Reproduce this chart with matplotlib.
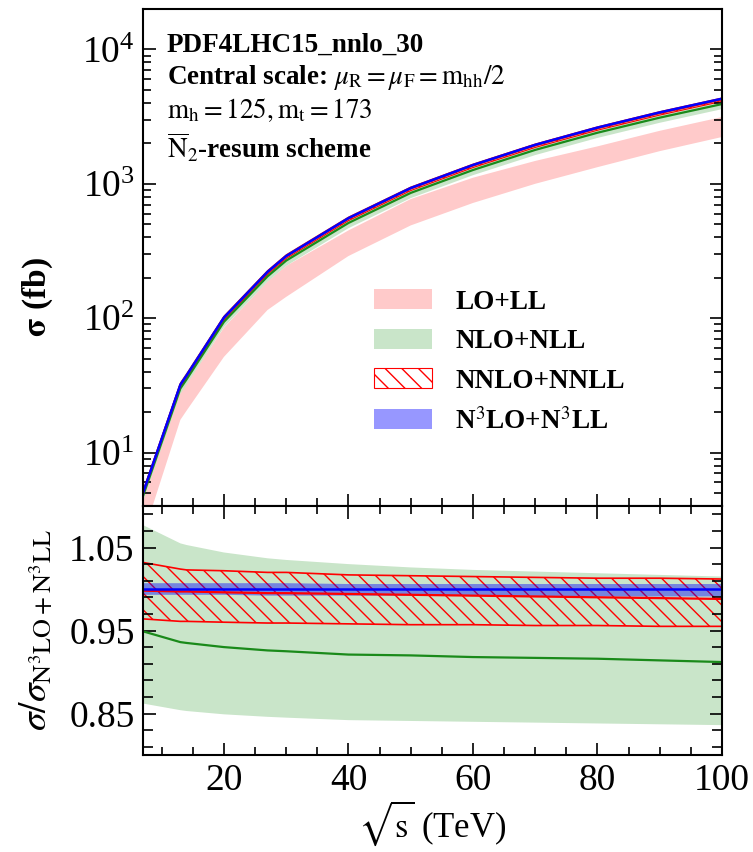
import numpy as np
import matplotlib
matplotlib.use("Agg")
import matplotlib.pyplot as plt
from matplotlib.ticker import FixedLocator, LogLocator, NullFormatter

plt.rcParams['font.family'] = ['Liberation Serif', 'DejaVu Serif']
plt.rcParams['mathtext.fontset'] = 'stix'
plt.rcParams['hatch.linewidth'] = 1.0

# ---------------- data ----------------
sqrt_s = [7, 13, 14, 20, 27, 30, 40, 50, 60, 70, 80, 90, 100]  # TeV

# N3LO+N3LL central cross section (fb)
sigma_n3lo = [5.0, 32, 37.5, 101, 221, 290, 555, 930, 1380, 1950, 2620, 3400, 4300]

# LO+LL band (fb)
lo_upper = [4.6, 28, 32.5, 85, 188, 245, 450, 770, 1110, 1480, 1900, 2480, 3140]
lo_lower = [2.4, 17.5, 20.5, 51.5, 115, 144, 290, 490, 720, 1000, 1330, 1750, 2230]

# ratios to N3LO+N3LL central
nlo_ratio_c = [0.949, 0.936, 0.935, 0.930, 0.926, 0.925, 0.921, 0.920, 0.918, 0.917, 0.916, 0.914, 0.912]
nlo_ratio_up = [1.077, 1.055, 1.053, 1.044, 1.037, 1.035, 1.030, 1.026, 1.023, 1.021, 1.019, 1.017, 1.015]
nlo_ratio_lo = [0.862, 0.854, 0.853, 0.849, 0.846, 0.845, 0.842, 0.841, 0.840, 0.839, 0.838, 0.837, 0.836]

nnlo_ratio_c = [0.998, 0.997, 0.997, 0.996, 0.995, 0.995, 0.994, 0.993, 0.992, 0.991, 0.990, 0.989, 0.988]
nnlo_ratio_up = [1.032, 1.024, 1.023, 1.022, 1.020, 1.020, 1.017, 1.016, 1.015, 1.014, 1.013, 1.013, 1.012]
nnlo_ratio_lo = [0.964, 0.961, 0.961, 0.960, 0.959, 0.959, 0.958, 0.957, 0.957, 0.956, 0.956, 0.955, 0.955]

n3lo_ratio_c = [1.000] * 13
n3lo_ratio_up = [1.007, 1.007, 1.007, 1.007, 1.007, 1.007, 1.006, 1.006, 1.006, 1.006, 1.006, 1.006, 1.006]
n3lo_ratio_lo = [0.993, 0.993, 0.993, 0.993, 0.992, 0.992, 0.992, 0.992, 0.992, 0.991, 0.991, 0.991, 0.991]

labels = ["LO+LL", "NLO+NLL", "NNLO+NNLL", r"N$^{3}$LO+N$^{3}$LL"]

x = np.array(sqrt_s, dtype=float)
cen = np.array(sigma_n3lo)

c_lo = '#ffcaca'
c_nlo = '#c9e5c9'
c_n3lo = '#8c8cff'

fig = plt.figure(figsize=(7.53, 8.52), dpi=100)
W, H = 753, 852
L, R = 143, 722
ax1 = fig.add_axes([L / W, 1 - 506 / H, (R - L) / W, (506 - 9) / H])
ax2 = fig.add_axes([L / W, 1 - 755 / H, (R - L) / W, (755 - 506) / H])

# ---------- top panel ----------
h_lo = ax1.fill_between(x, lo_lower, lo_upper, facecolor=c_lo, edgecolor='none', label=labels[0])
h_nlo = ax1.fill_between(x, cen * np.array(nlo_ratio_lo), cen * np.array(nlo_ratio_up),
                         facecolor=c_nlo, edgecolor='none', label=labels[1])
ax1.plot(x, cen * np.array(nlo_ratio_c), color='#1a8a1a', lw=1.6)
h_nnlo = ax1.fill_between(x, cen * np.array(nnlo_ratio_lo), cen * np.array(nnlo_ratio_up),
                          facecolor='none', edgecolor='red', hatch='\\\\', lw=0.8, label=labels[2])
ax1.plot(x, cen * np.array(nnlo_ratio_c), color='red', lw=1.6)
h_n3lo = ax1.fill_between(x, cen * np.array(n3lo_ratio_lo), cen * np.array(n3lo_ratio_up),
                          facecolor=c_n3lo, edgecolor='none', alpha=0.9, label=labels[3])
ax1.plot(x, cen, color='blue', lw=1.8)

ax1.set_yscale('log')
ax1.set_xlim(7, 100)
ax1.set_ylim(4.0, 2.0e4)

leg = ax1.legend(handles=[h_lo, h_nlo, h_nnlo, h_n3lo], labels=labels,
                 loc='upper left', bbox_to_anchor=(0.357, 0.485), frameon=False,
                 prop={'family': ['Liberation Serif'], 'weight': 'bold', 'size': 19.5},
                 handlelength=2.15, handleheight=0.75, labelspacing=0.52, handletextpad=0.85)

ax1.set_ylabel(r"$\mathbf{\sigma}$ (fb)", fontsize=24, fontweight='bold')
ax1.yaxis.set_label_coords(-0.152, 0.42)

tx = 0.041
fs_ann = 19.5
ax1.text(tx, 0.928, "PDF4LHC15_nnlo_30", transform=ax1.transAxes, fontsize=fs_ann, fontweight='bold', va='center')
ax1.text(tx, 0.863, r"Central scale: $\mu_{\rm R}=\mu_{\rm F}=\rm m_{hh}/2$", transform=ax1.transAxes,
         fontsize=fs_ann, fontweight='bold', va='center')
ax1.text(tx, 0.797, r"$\rm m_h = 125, m_t = 173$", transform=ax1.transAxes, fontsize=fs_ann, va='center')
ax1.text(tx, 0.722, r"$\overline{\rm N}_2$-resum scheme", transform=ax1.transAxes, fontsize=fs_ann,
         fontweight='bold', va='center')

# ---------- bottom panel ----------
ax2.fill_between(x, nlo_ratio_lo, nlo_ratio_up, facecolor=c_nlo, edgecolor='none')
ax2.plot(x, nlo_ratio_c, color='#1a8a1a', lw=1.6)
ax2.fill_between(x, nnlo_ratio_lo, nnlo_ratio_up, facecolor='none', edgecolor='red', hatch='\\\\', lw=1.2)
ax2.fill_between(x, n3lo_ratio_lo, n3lo_ratio_up, facecolor='blue', edgecolor='none', alpha=0.42)
ax2.plot(x, nnlo_ratio_c, color='red', lw=1.6)
ax2.plot(x, n3lo_ratio_c, color='blue', lw=1.8)

ax2.set_xlim(7, 100)
ax2.set_ylim(0.80, 1.10)
ax2.yaxis.set_major_locator(FixedLocator([0.85, 0.95, 1.05]))
ax2.yaxis.set_minor_locator(FixedLocator(list(np.arange(0.81, 1.10, 0.02))))
ax2.set_yticklabels(["0.85", "0.95", "1.05"])

ax2.set_ylabel(r"$\sigma/\sigma_{\rm N^3LO+N^3LL}$", fontsize=27)
ax2.yaxis.set_label_coords(-0.152, 0.50)
ax2.set_xlabel(r"$\sqrt{\rm s}$ (TeV)", fontsize=25, labelpad=1)

for ax in (ax1, ax2):
    ax.set_xticks([20, 40, 60, 80, 100])
    ax.xaxis.set_minor_locator(FixedLocator(list(range(10, 100, 5))))
    for s in ax.spines.values():
        s.set_linewidth(1.5)
    ax.tick_params(which='major', direction='in', length=9, width=1.2, labelsize=27, pad=6)
    ax.tick_params(which='minor', direction='in', length=5.5, width=1.2)

ax1.tick_params(which='both', right=True, top=False, bottom=True, labelbottom=False)
ax1.yaxis.set_minor_locator(LogLocator(base=10, subs=np.arange(2, 10), numticks=20))
ax1.yaxis.set_minor_formatter(NullFormatter())
ax2.tick_params(which='both', right=True, top=True)
ax2.tick_params(axis='y', which='minor', length=7)

fig.savefig("out.png", dpi=100)
